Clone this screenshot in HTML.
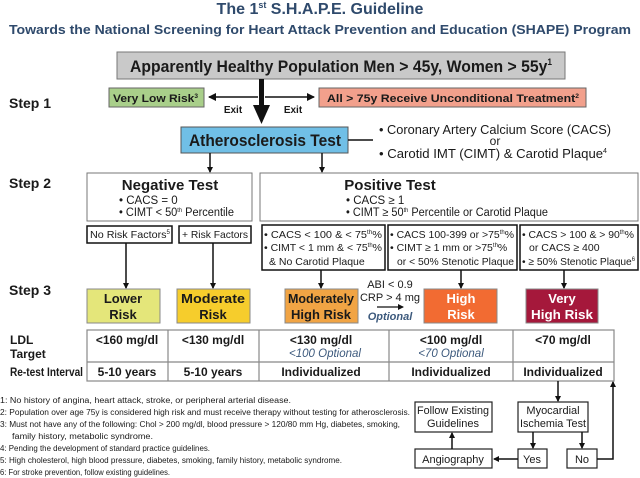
<!DOCTYPE html>
<html><head><meta charset="utf-8"><style>
body{margin:0;background:#fff}
svg{display:block}
text{font-family:"Liberation Sans",Arial,sans-serif;fill:#1a1a1a}
.b{font-weight:bold}
</style></head><body>
<svg width="640" height="478" viewBox="0 0 640 478" xmlns="http://www.w3.org/2000/svg">
<defs>
<marker id="ah" markerWidth="8" markerHeight="8" refX="7" refY="4" orient="auto" markerUnits="userSpaceOnUse"><path d="M0,0 L8,4 L0,8 z" fill="#111"/></marker>
<marker id="ahs" markerWidth="6" markerHeight="6" refX="5" refY="3" orient="auto" markerUnits="userSpaceOnUse"><path d="M0,0 L6,3 L0,6 z" fill="#111"/></marker>
</defs>
<text x="320" y="14" text-anchor="middle" class="b" font-size="16" style="fill:#2f4a6c">The 1<tspan font-size="9" dy="-6">st</tspan><tspan dy="6"> S.H.A.P.E. Guideline</tspan></text>
<text x="320" y="34" text-anchor="middle" class="b" font-size="13" style="fill:#2f4a6c" textLength="622" lengthAdjust="spacingAndGlyphs">Towards the National Screening for Heart Attack Prevention and Education (SHAPE) Program</text>

<rect x="117" y="52" width="448" height="27" fill="#c9c9c9" stroke="#777" stroke-width="1"/>
<text x="341" y="72" text-anchor="middle" class="b" font-size="17" textLength="422" lengthAdjust="spacingAndGlyphs">Apparently Healthy Population Men &gt; 45y, Women &gt; 55y<tspan font-size="9" dy="-7">1</tspan></text>

<text x="9" y="108" class="b" font-size="14">Step 1</text>
<rect x="109" y="88" width="95" height="19" fill="#a9cf8a" stroke="#666"/>
<text x="113" y="102" class="b" font-size="11" textLength="85" lengthAdjust="spacingAndGlyphs">Very Low Risk<tspan font-size="6" dy="-4">3</tspan></text>
<rect x="319" y="88" width="267" height="19" fill="#f2a08c" stroke="#666"/>
<text x="327" y="102" class="b" font-size="11" textLength="252" lengthAdjust="spacingAndGlyphs">All &gt; 75y Receive Unconditional Treatment<tspan font-size="6" dy="-4">2</tspan></text>
<line x1="258" y1="97" x2="209" y2="97" stroke="#111" stroke-width="1.5" marker-end="url(#ah)"/>
<line x1="265" y1="97" x2="314" y2="97" stroke="#111" stroke-width="1.5" marker-end="url(#ah)"/>
<text x="233" y="113" text-anchor="middle" class="b" font-size="10">Exit</text>
<text x="293" y="113" text-anchor="middle" class="b" font-size="10">Exit</text>
<rect x="259" y="79" width="5" height="27" fill="#111"/>
<path d="M253,105 L270,105 L261.5,124 z" fill="#111"/>

<rect x="181" y="127" width="167" height="26" fill="#70bfe6" stroke="#555"/>
<text x="265" y="146" text-anchor="middle" class="b" font-size="17" textLength="152" lengthAdjust="spacingAndGlyphs">Atherosclerosis Test</text>
<line x1="348" y1="140" x2="373" y2="140" stroke="#111" stroke-width="1.5"/>
<text x="379" y="134" font-size="13" textLength="232" lengthAdjust="spacingAndGlyphs">• Coronary Artery Calcium Score (CACS)</text>
<text x="495" y="145" text-anchor="middle" font-size="12">or</text>
<text x="379" y="158" font-size="13" textLength="228" lengthAdjust="spacingAndGlyphs">• Carotid IMT (CIMT) &amp; Carotid Plaque<tspan font-size="7" dy="-5">4</tspan></text>
<line x1="210" y1="153" x2="210" y2="172" stroke="#111" stroke-width="1.5" marker-end="url(#ahs)"/>
<line x1="322" y1="153" x2="322" y2="172" stroke="#111" stroke-width="1.5" marker-end="url(#ahs)"/>

<text x="9" y="188" class="b" font-size="14">Step 2</text>
<rect x="87" y="173" width="165" height="48" fill="#fff" stroke="#777"/>
<text x="170" y="190" text-anchor="middle" class="b" font-size="15">Negative Test</text>
<text x="119" y="204" font-size="11.5">• CACS = 0</text>
<text x="119" y="216" font-size="11.5" textLength="115" lengthAdjust="spacingAndGlyphs">• CIMT &lt; 50<tspan font-size="6" dy="-4">th</tspan><tspan dy="4"> Percentile</tspan></text>
<rect x="260" y="173" width="378" height="48" fill="#fff" stroke="#777"/>
<text x="390" y="190" text-anchor="middle" class="b" font-size="15">Positive Test</text>
<text x="346" y="204" font-size="11.5">• CACS ≥ 1</text>
<text x="346" y="216" font-size="11.5" textLength="202" lengthAdjust="spacingAndGlyphs">• CIMT ≥ 50<tspan font-size="6" dy="-4">th</tspan><tspan dy="4"> Percentile or Carotid Plaque</tspan></text>

<g fill="#fff" stroke="#111" stroke-width="1.5">
<rect x="87" y="226" width="85" height="17"/>
<rect x="179" y="226" width="72" height="17"/>
<rect x="262" y="225" width="123" height="45"/>
<rect x="388" y="225" width="129" height="45"/>
<rect x="520" y="225" width="118" height="45"/>
</g>
<g font-size="10.5">
<text x="90" y="238" textLength="80" lengthAdjust="spacingAndGlyphs">No Risk Factors<tspan font-size="6" dy="-4">5</tspan></text>
<text x="182" y="238" textLength="66" lengthAdjust="spacingAndGlyphs">+ Risk Factors</text>
<text x="264" y="238" textLength="118" lengthAdjust="spacingAndGlyphs">• CACS &lt; 100 &amp; &lt; 75<tspan font-size="6" dy="-4">th</tspan><tspan dy="4">%</tspan></text>
<text x="264" y="251" textLength="118" lengthAdjust="spacingAndGlyphs">• CIMT &lt; 1 mm &amp; &lt; 75<tspan font-size="6" dy="-4">th</tspan><tspan dy="4">%</tspan></text>
<text x="269" y="265">&amp; No Carotid Plaque</text>
<text x="390" y="238" textLength="124" lengthAdjust="spacingAndGlyphs">• CACS 100-399 or &gt;75<tspan font-size="6" dy="-4">th</tspan><tspan dy="4">%</tspan></text>
<text x="390" y="251">• CIMT ≥ 1 mm or &gt;75<tspan font-size="6" dy="-4">th</tspan><tspan dy="4">%</tspan></text>
<text x="397" y="265" textLength="117" lengthAdjust="spacingAndGlyphs">or &lt; 50% Stenotic Plaque</text>
<text x="522" y="238" textLength="112" lengthAdjust="spacingAndGlyphs">• CACS &gt; 100 &amp; &gt; 90<tspan font-size="6" dy="-4">th</tspan><tspan dy="4">%</tspan></text>
<text x="529" y="251">or CACS ≥ 400</text>
<text x="522" y="265" textLength="113" lengthAdjust="spacingAndGlyphs">• ≥ 50% Stenotic Plaque<tspan font-size="6" dy="-4">6</tspan></text>
</g>
<g stroke="#111" stroke-width="1.5" marker-end="url(#ahs)">
<line x1="126" y1="243" x2="126" y2="288"/>
<line x1="213" y1="243" x2="213" y2="288"/>
<line x1="321" y1="270" x2="321" y2="288"/>
<line x1="461" y1="270" x2="461" y2="288"/>
<line x1="564" y1="270" x2="564" y2="288"/>
</g>

<text x="9" y="295" class="b" font-size="14">Step 3</text>
<g stroke="#888" stroke-width="1">
<rect x="87" y="289" width="73" height="34" fill="#e4e67a"/>
<rect x="177" y="289" width="73" height="34" fill="#f6cd2c"/>
<rect x="285" y="289" width="73" height="34" fill="#f1a444"/>
<rect x="424" y="289" width="73" height="34" fill="#f26b32"/>
<rect x="526" y="289" width="72" height="34" fill="#a5183b"/>
</g>
<g class="b" font-size="13" text-anchor="middle">
<text x="123" y="303">Lower</text><text x="123" y="319">Risk</text>
<text x="213" y="303" textLength="64" lengthAdjust="spacingAndGlyphs">Moderate</text><text x="213" y="319">Risk</text>
<text x="321" y="303" textLength="66" lengthAdjust="spacingAndGlyphs">Moderately</text><text x="321" y="319" textLength="60" lengthAdjust="spacingAndGlyphs">High Risk</text>
<text x="461" y="303" style="fill:#fff">High</text><text x="461" y="319" style="fill:#fff">Risk</text>
<text x="562" y="303" style="fill:#fff">Very</text><text x="562" y="319" style="fill:#fff" textLength="62" lengthAdjust="spacingAndGlyphs">High Risk</text>
</g>
<text x="390" y="288" text-anchor="middle" font-size="11">ABI &lt; 0.9</text>
<text x="390" y="301" text-anchor="middle" font-size="11">CRP &gt; 4 mg</text>
<line x1="377" y1="307" x2="403" y2="307" stroke="#111" stroke-width="1.2" marker-end="url(#ahs)"/>
<text x="390" y="320" text-anchor="middle" class="b" font-size="11" font-style="italic" style="fill:#3d5a7d">Optional</text>

<g stroke="#888" stroke-width="1.2" fill="none">
<rect x="87" y="330" width="527" height="51"/>
<line x1="87" y1="362" x2="614" y2="362"/>
<line x1="168" y1="330" x2="168" y2="381"/>
<line x1="259" y1="330" x2="259" y2="381"/>
<line x1="389" y1="330" x2="389" y2="381"/>
<line x1="513" y1="330" x2="513" y2="381"/>
</g>
<g class="b" font-size="12">
<text x="10" y="344">LDL</text><text x="10" y="358">Target</text>
<text x="10" y="376" textLength="73" lengthAdjust="spacingAndGlyphs">Re-test Interval</text>
</g>
<g class="b" font-size="12" text-anchor="middle">
<text x="127" y="344">&lt;160 mg/dl</text>
<text x="213" y="344">&lt;130 mg/dl</text>
<text x="321" y="344">&lt;130 mg/dl</text>
<text x="451" y="344">&lt;100 mg/dl</text>
<text x="563" y="344">&lt;70 mg/dl</text>
<text x="127" y="376">5-10 years</text>
<text x="213" y="376">5-10 years</text>
<text x="321" y="376">Individualized</text>
<text x="451" y="376">Individualized</text>
<text x="563" y="376">Individualized</text>
</g>
<g font-size="11.5" font-style="italic" text-anchor="middle">
<text x="325" y="357" style="fill:#3d5a7d">&lt;100 Optional</text>
<text x="451" y="357" style="fill:#3d5a7d">&lt;70 Optional</text>
</g>

<g font-size="8">
<text x="0" y="403" textLength="291" lengthAdjust="spacingAndGlyphs">1: No history of angina, heart attack, stroke, or peripheral arterial disease.</text>
<text x="0" y="415" textLength="410" lengthAdjust="spacingAndGlyphs">2: Population over age 75y is considered high risk and must receive therapy without testing for atherosclerosis.</text>
<text x="0" y="427" textLength="400" lengthAdjust="spacingAndGlyphs">3: Must not have any of the following: Chol &gt; 200 mg/dl, blood pressure &gt; 120/80 mm Hg, diabetes, smoking,</text>
<text x="12" y="439" textLength="141" lengthAdjust="spacingAndGlyphs">family history, metabolic syndrome.</text>
<text x="0" y="451" textLength="210" lengthAdjust="spacingAndGlyphs">4: Pending the development of standard practice guidelines.</text>
<text x="0" y="463" textLength="342" lengthAdjust="spacingAndGlyphs">5: High cholesterol, high blood pressure, diabetes, smoking, family history, metabolic syndrome.</text>
<text x="0" y="475" textLength="170" lengthAdjust="spacingAndGlyphs">6: For stroke prevention, follow existing guidelines.</text>
</g>

<g fill="#fff" stroke="#222" stroke-width="1.2">
<rect x="415" y="402" width="77" height="30"/>
<rect x="518" y="402" width="70" height="30"/>
<rect x="415" y="449" width="77" height="19"/>
<rect x="518" y="449" width="29" height="19"/>
<rect x="567" y="449" width="30" height="19"/>
</g>
<g font-size="11" text-anchor="middle">
<text x="453" y="414" textLength="72" lengthAdjust="spacingAndGlyphs">Follow Existing</text>
<text x="453" y="427">Guidelines</text>
<text x="553" y="414">Myocardial</text>
<text x="553" y="427" textLength="66" lengthAdjust="spacingAndGlyphs">Ischemia Test</text>
<text x="453" y="463">Angiography</text>
<text x="532" y="463">Yes</text>
<text x="582" y="463">No</text>
</g>
<g stroke="#111" stroke-width="1.5" fill="none" marker-end="url(#ahs)">
<line x1="558" y1="381" x2="558" y2="401"/>
<line x1="533" y1="432" x2="533" y2="448"/>
<line x1="582" y1="432" x2="582" y2="448"/>
<line x1="518" y1="459" x2="494" y2="459"/>
<line x1="452" y1="449" x2="452" y2="433"/>
<polyline points="597,459 613,459 613,382"/>
</g>
</svg>
</body></html>
